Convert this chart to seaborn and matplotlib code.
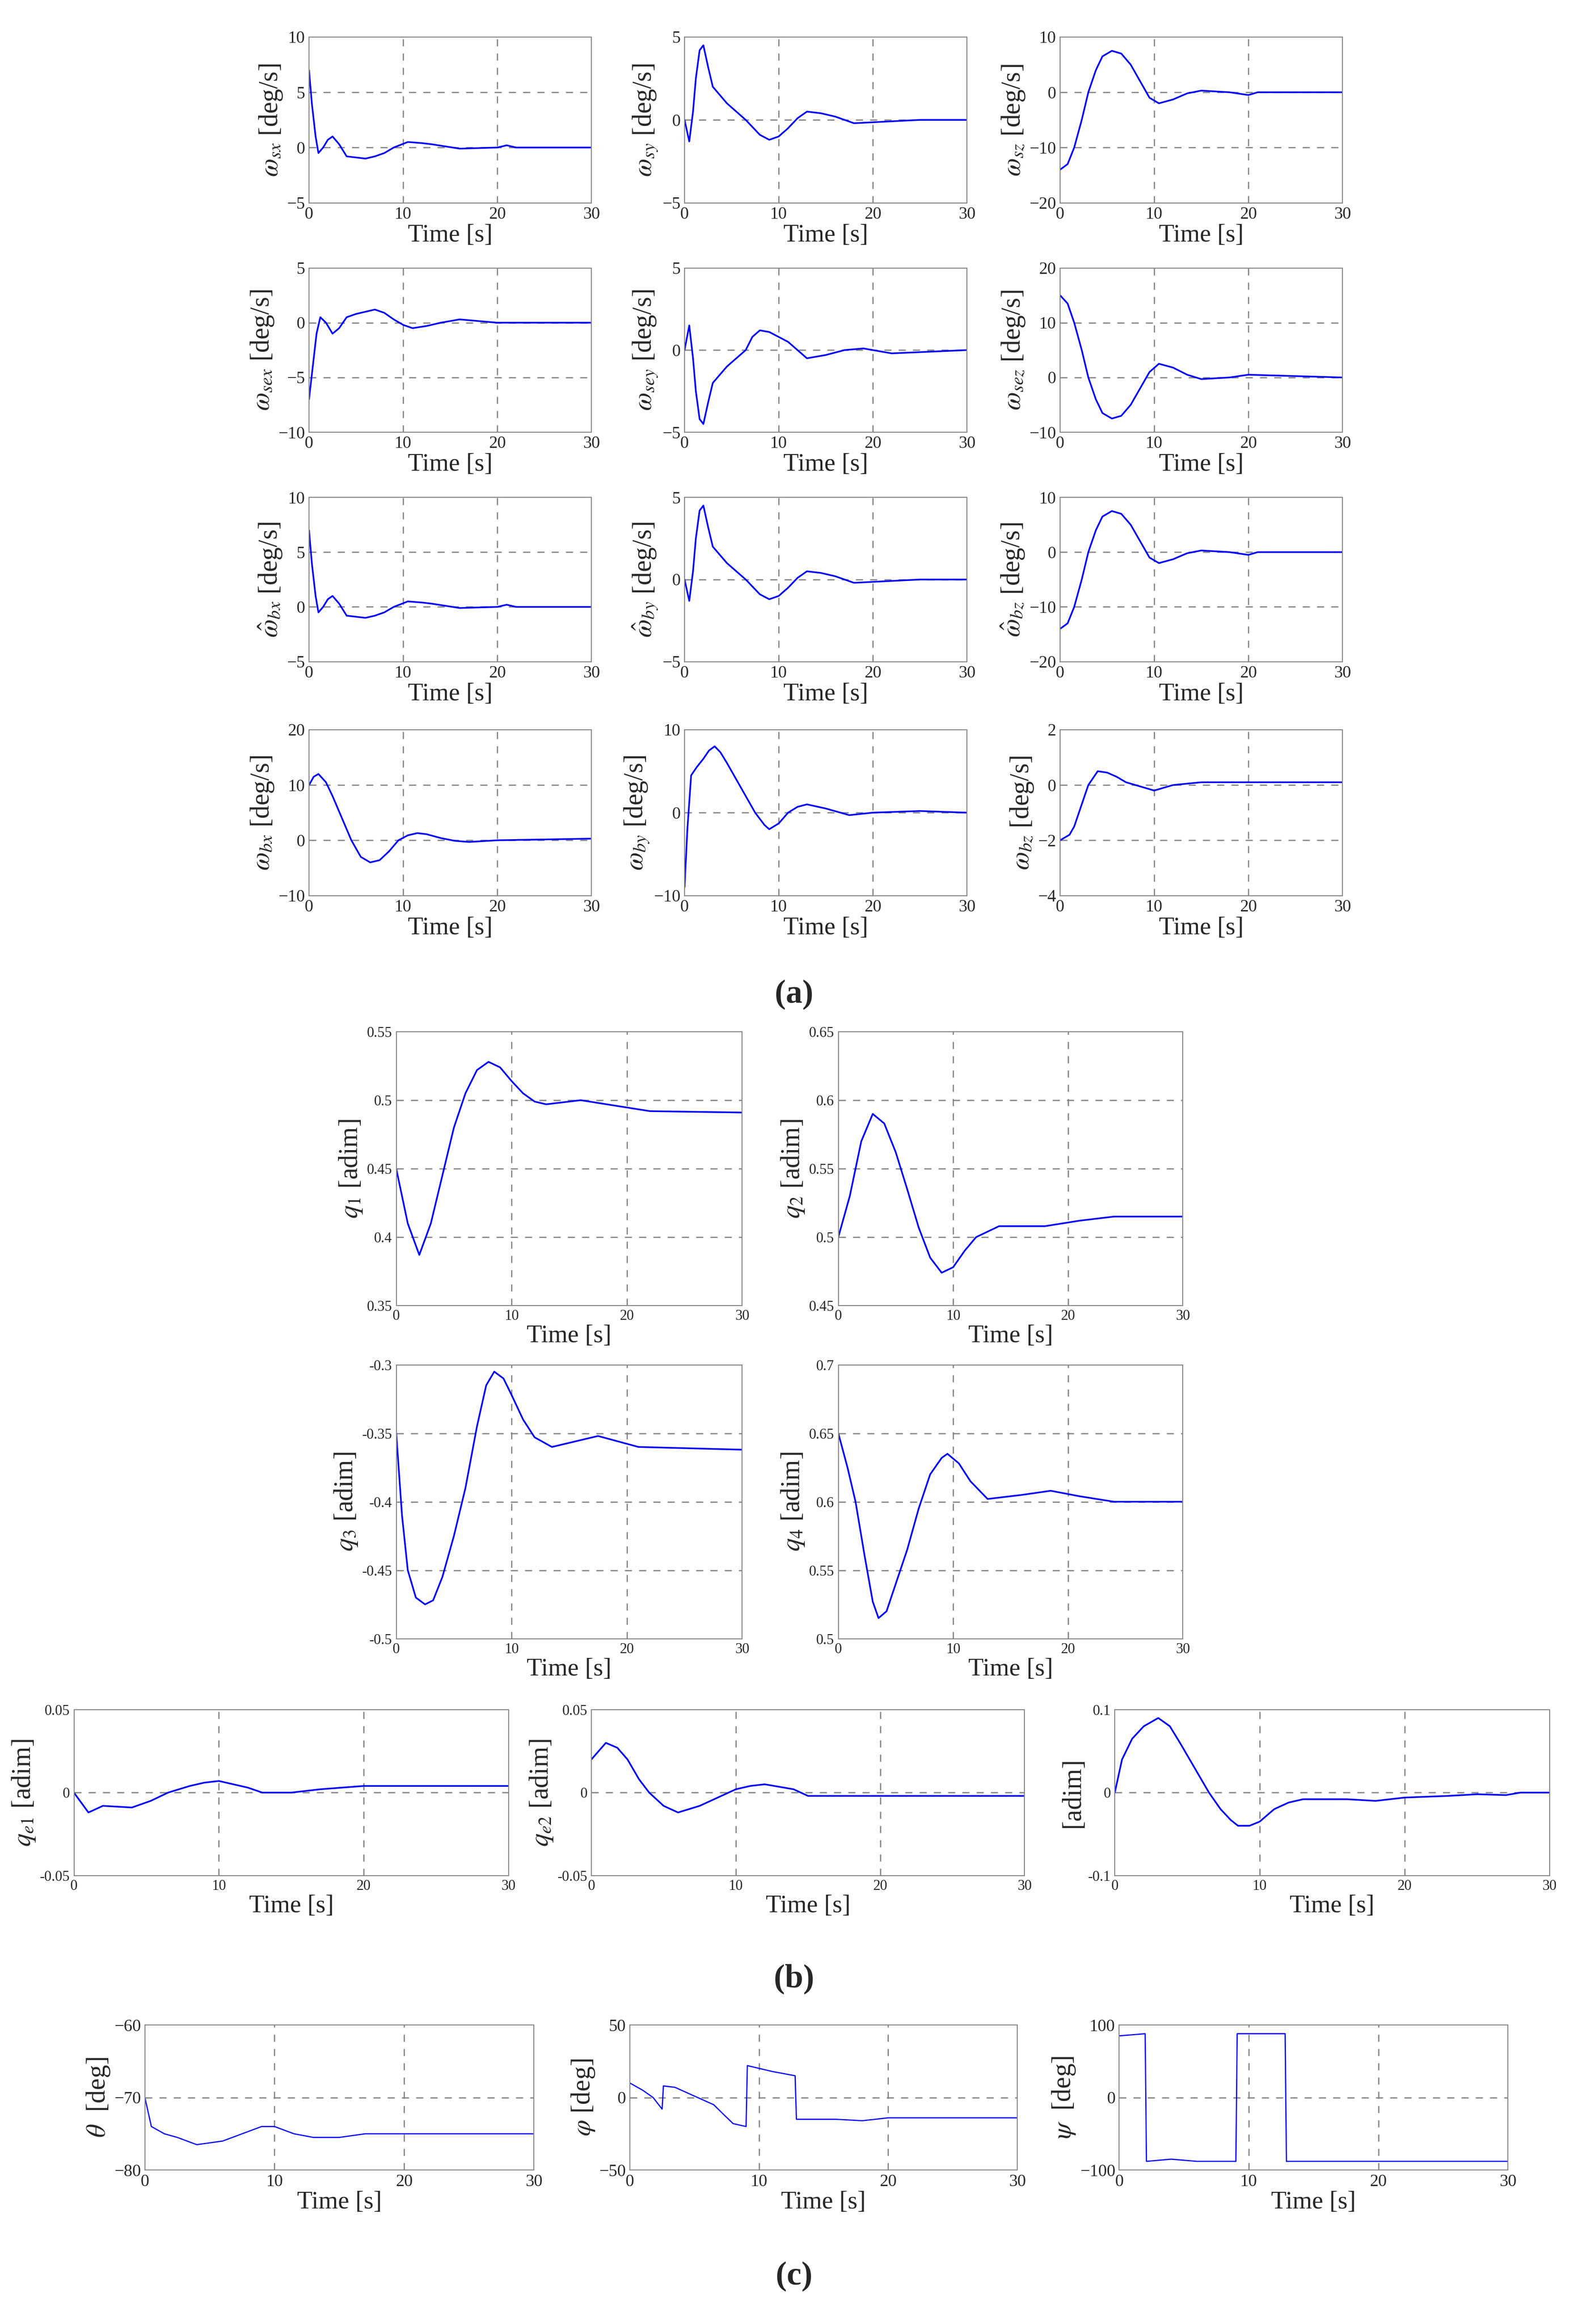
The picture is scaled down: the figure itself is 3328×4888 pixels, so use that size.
import numpy as np
import matplotlib
matplotlib.use("Agg")
import matplotlib.pyplot as plt
import seaborn as sns

sns.set_style("white")
plt.rcParams['font.family'] = ['Liberation Serif', 'DejaVu Serif']
plt.rcParams['mathtext.fontset'] = 'stix'

# ---------- data (time, value) ----------
wsx_t = [0, 0.3, 0.7, 1, 1.5, 2, 2.5, 3.2, 4, 5, 6, 7, 8, 9, 10.5, 12, 13, 16, 20, 21, 22, 30]
wsx_v = [7, 4, 1, -0.5, 0, 0.7, 1, 0.3, -0.8, -0.9, -1, -0.8, -0.5, 0, 0.5, 0.4, 0.3, -0.1, 0, 0.2, 0, 0]
wsy_t = [0, 0.5, 0.9, 1.2, 1.6, 2, 2.5, 3, 4.5, 5.5, 6.5, 8, 9, 10, 11, 12, 13, 14.5, 16, 18, 25, 30]
wsy_v = [0, -1.3, 0.5, 2.5, 4.2, 4.5, 3.2, 2, 1, 0.5, 0, -0.9, -1.2, -1, -0.5, 0.1, 0.5, 0.4, 0.2, -0.2, 0, 0]
wsz_t = [0, 0.8, 1.5, 2.3, 3, 3.8, 4.5, 5.5, 6.5, 7.5, 8.5, 9.5, 10.5, 12, 13.5, 15, 18, 20, 21, 30]
wsz_v = [-14, -13, -10, -5, 0, 4, 6.5, 7.5, 7, 5, 2, -1, -2, -1.3, -0.2, 0.3, 0, -0.5, 0, 0]
wsex_t = [0, 0.4, 0.8, 1.2, 1.8, 2.5, 3.2, 4, 5, 6, 7, 8, 9, 10, 11, 12.5, 14, 16, 20, 30]
wsex_v = [-7, -4, -1, 0.5, 0, -1, -0.5, 0.5, 0.8, 1, 1.2, 0.9, 0.3, -0.2, -0.5, -0.3, 0, 0.3, 0, 0]
wsey_t = [0, 0.5, 0.9, 1.2, 1.6, 2, 2.5, 3, 4.5, 5.5, 6.5, 7.2, 8, 9, 10, 11, 12, 13, 15, 17, 19, 22, 30]
wsey_v = [0, 1.5, -0.5, -2.5, -4.2, -4.5, -3.2, -2, -1, -0.5, 0, 0.8, 1.2, 1.1, 0.8, 0.5, 0, -0.5, -0.3, 0, 0.1, -0.2, 0]
wsez_t = [0, 0.8, 1.5, 2.3, 3, 3.8, 4.5, 5.5, 6.5, 7.5, 8.5, 9.5, 10.5, 12, 13.5, 15, 18, 20, 30]
wsez_v = [15, 13.5, 10, 5, 0, -4, -6.5, -7.5, -7, -5, -2, 1, 2.5, 1.8, 0.5, -0.3, 0, 0.5, 0]
wbx_t = [0, 0.5, 1, 1.8, 2.5, 3.5, 4.5, 5.5, 6.5, 7.5, 8.5, 9.5, 10.5, 11.5, 12.5, 14, 15.5, 17, 20, 30]
wbx_v = [10, 11.5, 12, 10.5, 8, 4, 0, -3, -4, -3.6, -2, 0, 0.9, 1.3, 1.1, 0.4, -0.1, -0.3, 0, 0.3]
wby_t = [0, 0.3, 0.7, 1.3, 2, 2.6, 3.2, 3.8, 4.5, 5.5, 6.5, 7.5, 8.5, 9, 10, 11, 12, 13, 15, 17.5, 20, 25, 30]
wby_v = [-9, -2, 4.5, 5.5, 6.5, 7.5, 8, 7.3, 6, 4, 2, 0, -1.5, -2, -1.3, 0, 0.7, 1, 0.5, -0.3, 0, 0.2, 0]
wbz_t = [0, 1, 1.5, 2.3, 3, 4, 5, 6, 7, 8, 10, 12, 15, 20, 30]
wbz_v = [-2, -1.8, -1.5, -0.7, 0, 0.5, 0.45, 0.3, 0.1, 0, -0.2, 0, 0.1, 0.1, 0.1]

q1_t = [0, 1, 2, 3, 4, 5, 6, 7, 8, 9, 10, 11, 12, 13, 16, 19, 22, 30]
q1_v = [0.45, 0.41, 0.387, 0.41, 0.445, 0.48, 0.505, 0.522, 0.528, 0.524, 0.514, 0.505, 0.499, 0.497, 0.5, 0.496, 0.492, 0.491]
q2_t = [0, 1, 2, 3, 4, 5, 6, 7, 8, 9, 10, 11, 12, 14, 18, 21, 24, 30]
q2_v = [0.5, 0.53, 0.57, 0.59, 0.583, 0.562, 0.535, 0.507, 0.485, 0.474, 0.478, 0.49, 0.5, 0.508, 0.508, 0.512, 0.515, 0.515]
q3_t = [0, 0.5, 1, 1.7, 2.5, 3.2, 4, 5, 6, 7, 7.8, 8.5, 9.3, 10, 11, 12, 13.5, 16, 17.5, 21, 30]
q3_v = [-0.35, -0.41, -0.45, -0.47, -0.475, -0.472, -0.455, -0.425, -0.39, -0.345, -0.315, -0.305, -0.31, -0.322, -0.34, -0.353, -0.36, -0.355, -0.352, -0.36, -0.362]
q4_t = [0, 0.8, 1.5, 2.3, 3, 3.5, 4.2, 5, 6, 7, 8, 9, 9.5, 10.5, 11.5, 13, 16, 18.5, 21, 24, 30]
q4_v = [0.65, 0.625, 0.6, 0.56, 0.527, 0.515, 0.52, 0.54, 0.565, 0.595, 0.62, 0.632, 0.635, 0.628, 0.615, 0.602, 0.605, 0.608, 0.604, 0.6, 0.6]
qe1_t = [0, 1, 2, 4, 5.3, 6.5, 8, 9, 10, 11, 12, 13, 15, 17, 20, 30]
qe1_v = [0, -0.012, -0.008, -0.009, -0.005, 0, 0.004, 0.006, 0.007, 0.005, 0.003, 0, 0, 0.002, 0.004, 0.004]
qe2_t = [0, 1, 1.8, 2.5, 3.3, 4, 5, 6, 7.5, 9, 10, 11, 12, 14, 15, 20, 30]
qe2_v = [0.02, 0.03, 0.027, 0.02, 0.008, 0, -0.008, -0.012, -0.008, -0.002, 0.002, 0.004, 0.005, 0.002, -0.002, -0.002, -0.002]
qe3_t = [0, 0.5, 1.2, 2, 3, 3.8, 4.5, 5.5, 6.5, 7.3, 8, 8.5, 9.3, 10, 11, 12, 13, 16, 18, 20, 23, 25, 27, 28, 30]
qe3_v = [0, 0.04, 0.065, 0.08, 0.09, 0.08, 0.06, 0.03, 0, -0.02, -0.033, -0.04, -0.04, -0.035, -0.02, -0.012, -0.008, -0.008, -0.01, -0.006, -0.004, -0.002, -0.003, 0, 0]
th_t = [0, 0.5, 1.5, 2.5, 4, 6, 7.5, 9, 10, 11.5, 13, 15, 17, 30]
th_v = [-70, -74, -75, -75.5, -76.5, -76, -75, -74, -74, -75, -75.5, -75.5, -75, -75]
ph_t = [0, 1, 1.8, 2.5, 2.6, 3.5, 4.5, 5.5, 6.5, 7.3, 8, 9, 9.1, 11, 12.8, 12.9, 16, 18, 20, 30]
ph_v = [10, 5, 0, -8, 8, 7, 3, -1, -5, -12, -18, -20, 22, 18, 15, -15, -15, -16, -14, -14]
ps_t = [0, 2, 2.1, 4, 6, 9, 9.1, 12.8, 12.9, 30]
ps_v = [85, 88, -88, -85, -88, -88, 88, 88, -88, -88]

W, H = 1070.0, 1570.0
fig = plt.figure(figsize=(33.28, 48.88), dpi=100)

def add(x0, x1, y0, y1, t, v, ylim, yticks, ylabel, fs_tick=26, fs_lab=38, xlab=True, lw=2.5):
    ax = fig.add_axes([x0 / W, 1 - y1 / H, (x1 - x0) / W, (y1 - y0) / H])
    sns.lineplot(x=t, y=v, ax=ax, color='blue', linewidth=lw)
    ax.set_xlim(0, 30)
    ax.set_ylim(*ylim)
    ax.set_xticks([0, 10, 20, 30])
    ax.set_yticks(yticks)
    for x in [10, 20]:
        ax.axvline(x, color='gray', ls=(0, (6, 6)), lw=1.8, zorder=0)
    for y in yticks[1:-1]:
        ax.axhline(y, color='gray', ls=(0, (6, 6)), lw=1.8, zorder=0)
    ax.tick_params(labelsize=fs_tick, length=0, pad=6)
    for s in ax.spines.values():
        s.set_color('#888888'); s.set_linewidth(1.5)
    if xlab:
        ax.set_xlabel('Time [s]', fontsize=fs_lab, labelpad=2)
    else:
        ax.set_xlabel('')
    ax.set_ylabel(ylabel, fontsize=fs_lab + 2, labelpad=4)
    return ax

cols = [(209, 400), (463, 654), (717, 908)]
rows = [(25, 137), (181, 292), (336, 447), (493, 605)]
a_data = [
    [(wsx_t, wsx_v, (-5, 10), [-5, 0, 5, 10], r'$\omega_{sx}$ [deg/s]'),
     (wsy_t, wsy_v, (-5, 5), [-5, 0, 5], r'$\omega_{sy}$ [deg/s]'),
     (wsz_t, wsz_v, (-20, 10), [-20, -10, 0, 10], r'$\omega_{sz}$ [deg/s]')],
    [(wsex_t, wsex_v, (-10, 5), [-10, -5, 0, 5], r'$\omega_{sex}$ [deg/s]'),
     (wsey_t, wsey_v, (-5, 5), [-5, 0, 5], r'$\omega_{sey}$ [deg/s]'),
     (wsez_t, wsez_v, (-10, 20), [-10, 0, 10, 20], r'$\omega_{sez}$ [deg/s]')],
    [(wsx_t, wsx_v, (-5, 10), [-5, 0, 5, 10], r'$\hat{\omega}_{bx}$ [deg/s]'),
     (wsy_t, wsy_v, (-5, 5), [-5, 0, 5], r'$\hat{\omega}_{by}$ [deg/s]'),
     (wsz_t, wsz_v, (-20, 10), [-20, -10, 0, 10], r'$\hat{\omega}_{bz}$ [deg/s]')],
    [(wbx_t, wbx_v, (-10, 20), [-10, 0, 10, 20], r'$\omega_{bx}$ [deg/s]'),
     (wby_t, wby_v, (-10, 10), [-10, 0, 10], r'$\omega_{by}$ [deg/s]'),
     (wbz_t, wbz_v, (-4, 2), [-4, -2, 0, 2], r'$\omega_{bz}$ [deg/s]')],
]
for r, (y0, y1) in enumerate(rows):
    for c, (x0, x1) in enumerate(cols):
        t, v, yl, yt, lab = a_data[r][c]
        add(x0, x1, y0, y1, t, v, yl, yt, lab)
fig.text(537 / W, 1 - 672 / H, '(a)', ha='center', va='center', fontsize=50, fontweight='bold')

b2 = [
    (268, 502, 697, 882, q1_t, q1_v, (0.35, 0.55), [0.35, 0.4, 0.45, 0.5, 0.55], r'$q_1$ [adim]'),
    (567, 800, 697, 882, q2_t, q2_v, (0.45, 0.65), [0.45, 0.5, 0.55, 0.6, 0.65], r'$q_2$ [adim]'),
    (268, 502, 922, 1107, q3_t, q3_v, (-0.5, -0.3), [-0.5, -0.45, -0.4, -0.35, -0.3], r'$q_3$ [adim]'),
    (567, 800, 922, 1107, q4_t, q4_v, (0.5, 0.7), [0.5, 0.55, 0.6, 0.65, 0.7], r'$q_4$ [adim]'),
]
for x0, x1, y0, y1, t, v, yl, yt, lab in b2:
    ax = add(x0, x1, y0, y1, t, v, yl, yt, lab, fs_tick=22)
    ax.set_yticklabels([('%g' % y) for y in yt])

b3 = [
    (50, 344, qe1_t, qe1_v, (-0.05, 0.05), [-0.05, 0, 0.05], r'$q_{e1}$ [adim]'),
    (400, 693, qe2_t, qe2_v, (-0.05, 0.05), [-0.05, 0, 0.05], r'$q_{e2}$ [adim]'),
    (754, 1048, qe3_t, qe3_v, (-0.1, 0.1), [-0.1, 0, 0.1], '[adim]'),
]
for x0, x1, t, v, yl, yt, lab in b3:
    ax = add(x0, x1, 1155, 1267, t, v, yl, yt, lab, fs_tick=22)
    ax.set_yticklabels([('%g' % y) for y in yt])
fig.text(537 / W, 1 - 1337 / H, '(b)', ha='center', va='center', fontsize=50, fontweight='bold')

c3 = [
    (98, 361, th_t, th_v, (-80, -60), [-80, -70, -60], r'$\theta$  [deg]'),
    (426, 688, ph_t, ph_v, (-50, 50), [-50, 0, 50], r'$\varphi$ [deg]'),
    (757, 1020, ps_t, ps_v, (-100, 100), [-100, 0, 100], r'$\psi$  [deg]'),
]
for x0, x1, t, v, yl, yt, lab in c3:
    add(x0, x1, 1368, 1466, t, v, yl, yt, lab, lw=1.8)
fig.text(537 / W, 1 - 1538 / H, '(c)', ha='center', va='center', fontsize=50, fontweight='bold')

fig.savefig('out.png', dpi=100, facecolor='white')
